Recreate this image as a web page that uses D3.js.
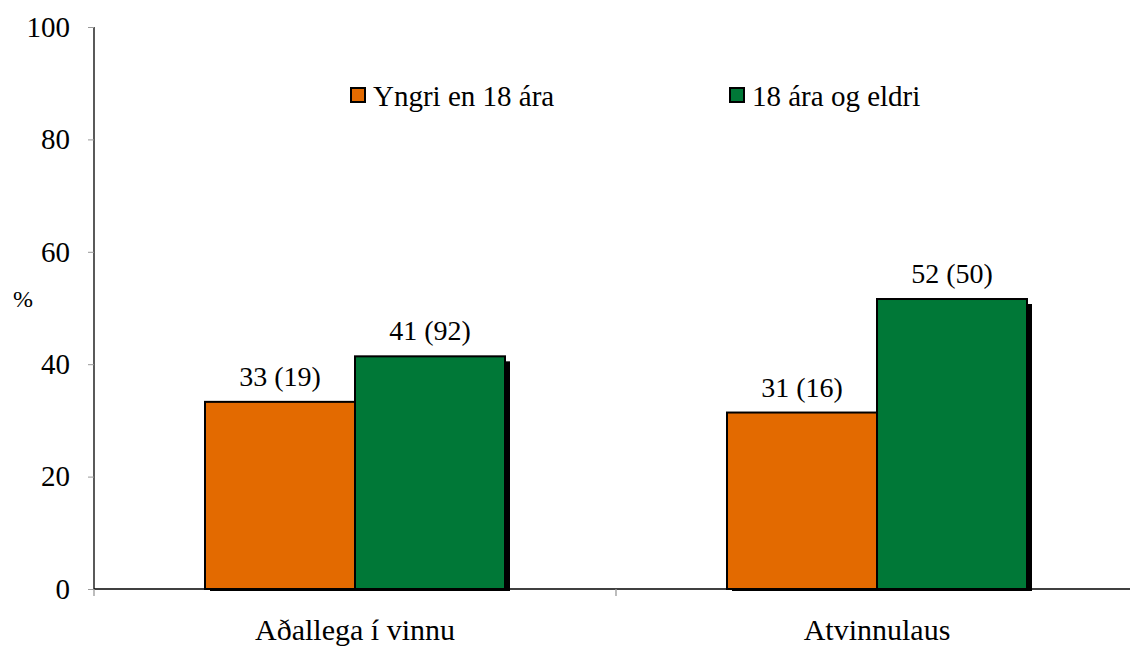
<!DOCTYPE html>
<html><head><meta charset="utf-8">
<script src="https://cdn.jsdelivr.net/npm/d3@7"></script>
</head><body style="margin:0;background:#fff">
<svg id="c" width="1130" height="646"></svg>
<script>
const categories = ["Aðallega í vinnu", "Atvinnulaus"];
const seriesNames = ["Yngri en 18 ára", "18 ára og eldri"];
const seriesColors = ["#e36a00", "#007837"];
const youngerValues = [33.3, 31.4];
const olderValues = [41.4, 51.6];
const youngerLabels = ["33 (19)", "31 (16)"];
const olderLabels = ["41 (92)", "52 (50)"];
const yTicks = [0, 20, 40, 60, 80, 100];

(function () {
const FF = "Liberation Serif";
const svg = d3.select("#c").style("font-family", FF);
const pLeft = 94, pRight = 1138, pTop = 27, pBottom = 589;
const x = d3.scaleBand().domain(categories).range([pLeft, pRight]).paddingInner(0).paddingOuter(0);
const y = d3.scaleLinear().domain([0, 100]).range([pBottom, pTop]);
const sub = d3.scaleBand().domain([0, 1]).range([0, 300]);
const barW = sub.bandwidth();

const series = [youngerValues, olderValues];
const labels = [youngerLabels, olderLabels];
categories.forEach((c, i) => {
  const cx = x(c) + x.bandwidth() / 2;
  series.forEach((vals, s) => {
    const bx = cx - 150 + sub(s);
    const by = y(vals[i]);
    svg.append("rect").attr("x", bx + 5).attr("y", by + 5).attr("width", barW).attr("height", pBottom - by - 3).attr("fill", "#000");
  });
  series.forEach((vals, s) => {
    const bx = cx - 150 + sub(s);
    const by = y(vals[i]);
    svg.append("rect").attr("x", bx).attr("y", by).attr("width", barW).attr("height", pBottom - by)
      .attr("fill", seriesColors[s]).attr("stroke", "#000").attr("stroke-width", 2);
    svg.append("text").attr("x", bx + barW / 2).attr("y", by - 16).attr("text-anchor", "middle")
      .style("font-family", FF).style("font-size", "28px").text(labels[s][i]);
  });
});

const yAxis = d3.axisLeft(y).tickValues(yTicks).tickSize(6).tickPadding(18);
const gy = svg.append("g").attr("transform", `translate(${pLeft},0)`).call(yAxis);
gy.attr("font-family", null).attr("font-size", null);
gy.select(".domain").attr("stroke", "#000").attr("stroke-width", 1.3).attr("d", `M0,${pTop}V${pBottom}`);
gy.selectAll(".tick line").attr("stroke", "#999");
gy.selectAll(".tick text").style("font-family", FF).style("font-size", "29px").attr("fill", "#000");

svg.append("line").attr("x1", pLeft).attr("x2", 1130).attr("y1", pBottom).attr("y2", pBottom).attr("stroke", "#000").attr("stroke-width", 1.3);
[pLeft, x(categories[1])].forEach(t => {
  svg.append("line").attr("x1", t).attr("x2", t).attr("y1", pBottom).attr("y2", pBottom + 7).attr("stroke", "#999").attr("stroke-width", 1.3);
});
categories.forEach(c => {
  svg.append("text").attr("x", x(c) + x.bandwidth() / 2).attr("y", 640).attr("text-anchor", "middle")
    .style("font-family", FF).style("font-size", "30px").text(c);
});

svg.append("text").attr("x", 23).attr("y", 307).attr("text-anchor", "middle")
  .style("font-family", FF).style("font-size", "24px").text("%");

const legendX = [351, 730];
seriesNames.forEach((n, s) => {
  svg.append("rect").attr("x", legendX[s]).attr("y", 88).attr("width", 14).attr("height", 14)
    .attr("fill", seriesColors[s]).attr("stroke", "#000").attr("stroke-width", 2);
  svg.append("text").attr("x", legendX[s] + 22).attr("y", 106)
    .style("font-family", FF).style("font-size", "29px").text(n);
});
})();
</script>
</body></html>
